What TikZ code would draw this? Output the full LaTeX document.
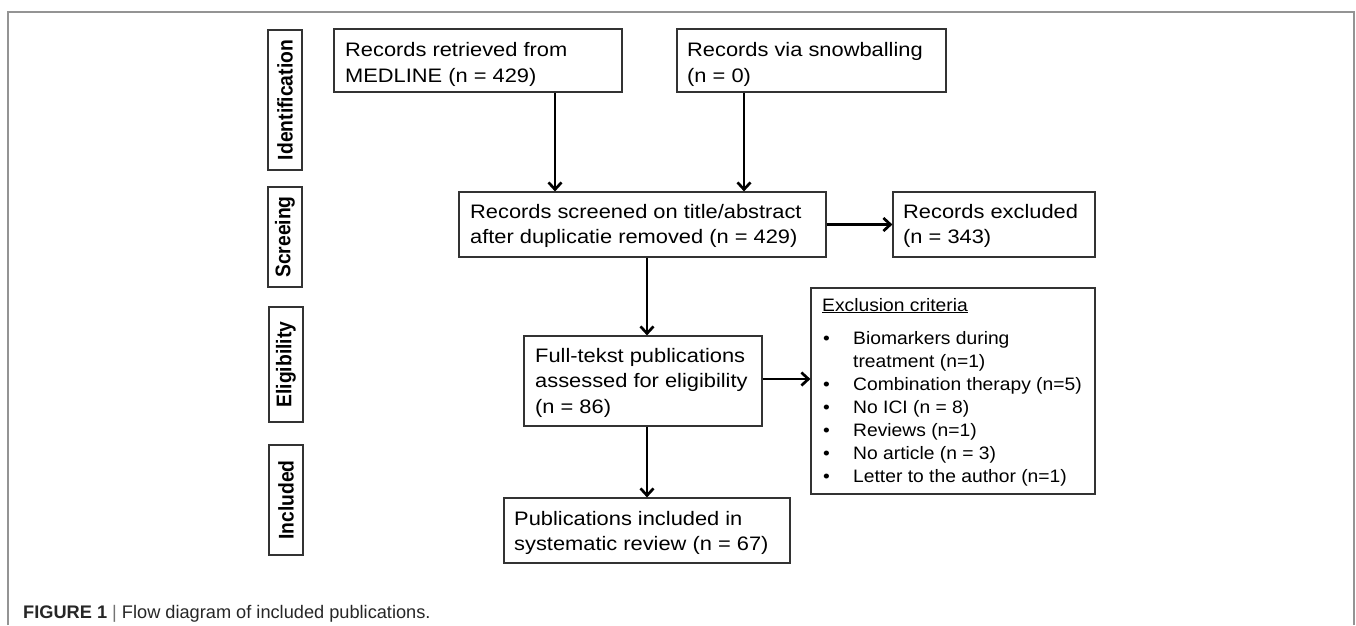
\documentclass[tikz,border=0pt]{standalone}
\usepackage{fontspec}
\setmainfont{Liberation Sans}
\newfontfamily\boxfont[FakeStretch=1.12]{Liberation Sans}
\newfontfamily\critfont[FakeStretch=1.07]{Liberation Sans}
\usetikzlibrary{arrows.meta}
\tikzset{
  frame/.style={draw=black!42, line width=1.4pt},
  boxshape/.style={draw=black!80, line width=1.2pt, rectangle, inner sep=0pt},
  phase/.style={draw=black!80, line width=1.2pt, rectangle, inner sep=0pt, minimum width=34pt},
  phasetext/.style={rotate=90, yscale=1.1, font=\fontsize{19.3}{22}\selectfont\bfseries, inner sep=0pt},
  boxtext/.style={anchor=base west, inner sep=0pt, font=\boxfont\fontsize{19.5}{25}\selectfont},
  crittext/.style={anchor=base west, inner sep=0pt, font=\critfont\fontsize{18}{23}\selectfont},
  flow/.style={line width=2.7pt, -{Straight Barb[length=7pt,width=13pt]}},
}
\begin{document}
\begin{tikzpicture}[x=1pt,y=-1pt]
\useasboundingbox (0,0) rectangle (1356,625);
\draw[frame] (8,625) -- (8,12) -- (1354,12) -- (1354,625);

% phase labels
\node[phase, minimum height=140pt] (pid) at (285,100) {};
\node[phasetext] (pidt) at (pid.center) {Identification};
\node[phase, minimum height=100pt] (pscr) at (285,237) {};
\node[phasetext] (pscrt) at (pscr.center) {Screeing};
\node[phase, minimum height=115pt] (peli) at (286,364.5) {};
\node[phasetext] (pelit) at (peli.center) {Eligibility};
\node[phase, minimum height=110pt] (pinc) at (286,500) {};
\node[phasetext] (pinct) at (pinc.center) {Included};

% boxes
\node[boxshape, minimum width=288pt, minimum height=63pt] (b1) at (478,60.5) {};
\node[boxshape, minimum width=269pt, minimum height=63pt] (b2) at (811.5,60.5) {};
\node[boxshape, minimum width=367pt, minimum height=65pt] (b3) at (642.5,224.5) {};
\node[boxshape, minimum width=202pt, minimum height=65pt] (b4) at (994,224.5) {};
\node[boxshape, minimum width=238pt, minimum height=90pt] (b5) at (643,381) {};
\node[boxshape, minimum width=284pt, minimum height=206pt] (b6) at (953,391) {};
\node[boxshape, minimum width=286pt, minimum height=65pt] (b7) at (647,530.5) {};

% texts
\node[boxtext] (t1a) at (345,56) {Records retrieved from};
\node[boxtext] (t1b) at (345,82) {MEDLINE (n = 429)};
\node[boxtext] (t2a) at (687,56) {Records via snowballing};
\node[boxtext] (t2b) at (687,82) {(n = 0)};
\node[boxtext] (t3a) at (470,218) {Records screened on title/abstract};
\node[boxtext] (t3b) at (470,243) {after duplicatie removed (n = 429)};
\node[boxtext] (t4a) at (903,218) {Records excluded};
\node[boxtext] (t4b) at (903,243) {(n = 343)};
\node[boxtext] (t5a) at (535,362) {Full-tekst publications};
\node[boxtext] (t5b) at (535,387) {assessed for eligibility};
\node[boxtext] (t5c) at (535,413) {(n = 86)};
\node[boxtext] (t7a) at (514,525) {Publications included in};
\node[boxtext] (t7b) at (514,550) {systematic review (n = 67)};

\node[crittext] (c0) at (822,311) {\underline{Exclusion criteria}};
\foreach \yy/\txt [count=\i] in {344/Biomarkers during, 367/treatment (n=1), 390/Combination therapy (n=5), 413/No ICI (n = 8), 436/Reviews (n=1), 459/No article (n = 3), 482/Letter to the author (n=1)}{
  \node[crittext] (c\i) at (853,\yy) {\txt};
}
\foreach \yy [count=\i] in {344,390,413,436,459,482}{
  \node[crittext] (bul\i) at (823,\yy) {\textbullet};
}

% connectors
\draw[flow] (b1.south -| 555,0) -- (b3.north -| 555,0);
\draw[flow] (b2.south -| 744,0) -- (b3.north -| 744,0);
\draw[flow] (b3.east) -- (b4.west);
\draw[flow] (b3.south -| 647,0) -- (b5.north -| 647,0);
\draw[flow] (b5.east |- 0,379) -- (b6.west |- 0,379);
\draw[flow] (b5.south -| 647,0) -- (b7.north -| 647,0);

% caption
\node[anchor=base west, inner sep=0pt, font=\fontsize{18.2}{20}\selectfont, text=black!85] (cap) at (23,618)
  {\textbf{FIGURE 1} {\color{black!55}|} Flow diagram of included publications.};
\end{tikzpicture}
\end{document}
